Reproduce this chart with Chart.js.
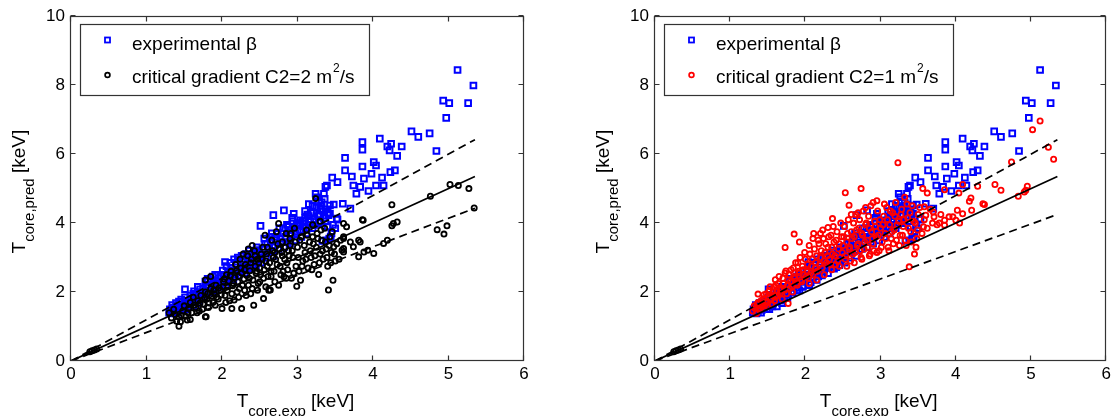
<!DOCTYPE html>
<html><head><meta charset="utf-8">
<script src="https://cdn.jsdelivr.net/npm/chart.js@4/dist/chart.umd.min.js"></script>
<style>
html,body{margin:0;padding:0;background:#fff;}
#wrap{position:relative;width:1114px;height:416px;overflow:hidden;background:#fff;}
.panel{position:absolute;top:0;width:557px;height:416px;}
</style></head><body>
<div id="wrap">
<div class="panel" style="left:0"><canvas id="c1"></canvas></div>
<div class="panel" style="left:557px"><canvas id="c2"></canvas></div>
</div>
<script>
const FONT = "'Liberation Sans', Arial, Helvetica, sans-serif";
const xTicks = [0,1,2,3,4,5,6];
const yTicks = [0,2,4,6,8,10];

// fit lines: x end points and y end points
const lineX = [0, 5.35];
const identityY = [0, 5.35];
const upperY = [0, 6.42];
const lowerYLeft = [0, 4.43];
const lowerYRight = [0, 4.25];

// small markers near the origin
const originPts = [[0.25,0.27],[0.28,0.30],[0.31,0.32],[0.34,0.35]];

// experimental beta (blue squares), same in both panels
const expBeta = [
[5.12,8.44],[5.33,7.99],[4.93,7.55],[5.01,7.48],[5.26,7.48],[4.97,7.05],[4.51,6.66],[4.60,6.50],[4.75,6.60],[4.84,6.09],
[4.09,6.45],[3.86,6.35],[3.86,6.13],[4.19,6.22],[4.24,6.30],[4.22,6.11],[4.38,6.22],[4.32,5.95],[3.63,5.89],[3.86,5.64],
[4.01,5.77],[4.04,5.67],[3.63,5.53],[3.72,5.35],[3.88,5.29],[3.98,5.43],[4.12,5.32],[4.23,5.48],[4.29,5.53],[3.74,5.09],
[3.83,5.05],[3.94,4.93],[4.04,5.09],[4.14,5.09],[3.78,4.85],[3.53,5.19],[3.46,5.32],[3.48,4.54],[3.60,4.56],[3.70,4.42],
[3.53,4.10],[3.43,4.27],[2.51,3.92],[2.68,4.23],[2.82,4.37],[2.95,4.27],[3.24,4.85],[3.35,4.85],[3.37,5.05],[3.39,5.09],
[3.43,4.51],[3.52,4.13],[3.41,4.23],[2.04,2.87],[2.88,3.89],[3.04,3.99],[1.51,2.08],[3.04,4.08],[3.28,4.62],[3.30,4.40],
[3.20,4.50],[3.15,4.20],[3.10,4.35],[3.30,4.05],
[1.30,1.40],[1.33,1.45],[1.35,1.38],[1.38,1.52],[1.40,1.60],[1.42,1.48],[1.45,1.55],[1.47,1.70],[1.50,1.62],[1.52,1.50],
[1.55,1.75],[1.57,1.66],[1.60,1.82],[1.62,1.58],[1.35,1.55],[1.43,1.72],
[1.65,1.90],[1.67,1.75],[1.70,2.00],[1.72,1.85],[1.75,2.10],[1.77,1.92],[1.80,2.20],[1.82,2.02],[1.85,2.35],[1.87,2.12],
[1.90,2.25],[1.92,2.05],[1.95,2.40],[1.97,2.18],[1.68,2.15],[1.78,2.30],[1.88,2.45],[1.62,1.95],
[2.00,2.30],[2.02,2.50],[2.05,2.20],[2.08,2.60],[2.10,2.40],[2.12,2.70],[2.15,2.35],[2.18,2.55],[2.20,2.80],[2.22,2.48],
[2.25,2.65],[2.28,2.90],[2.30,2.55],[2.33,2.75],[2.35,3.00],[2.38,2.68],[2.40,2.85],[2.42,3.10],[2.45,2.78],[2.48,2.95],
[2.06,2.75],[2.16,2.95],[2.26,3.05],[2.36,3.20],[2.46,3.30],
[2.50,3.10],[2.52,2.85],[2.55,3.25],[2.58,3.00],[2.60,3.40],[2.62,3.15],[2.65,3.50],[2.68,3.05],[2.70,3.35],[2.72,3.60],
[2.75,3.25],[2.78,3.45],[2.80,3.70],[2.82,3.30],[2.85,3.55],[2.88,3.80],[2.90,3.40],[2.92,3.65],[2.95,3.90],[2.98,3.50],
[2.56,3.55],[2.66,3.70],[2.76,3.85],[2.86,3.95],[2.94,4.05],
[3.00,3.75],[3.02,4.00],[3.05,3.60],[3.08,3.90],[3.10,4.15],[3.12,3.70],[3.15,3.95],[3.18,4.30],[3.20,3.85],[3.22,4.10],
[3.25,4.45],[3.28,4.00],[3.30,4.25],[3.32,4.60],[3.35,4.15],[3.38,4.40],[3.40,3.90],[3.42,3.55],[3.45,3.70],[3.50,3.85],
[3.36,4.70],[3.26,4.75],[3.15,4.55],
[1.31,1.50],[1.34,1.62],[1.37,1.45],[1.39,1.68],[1.41,1.40],[1.44,1.62],[1.46,1.78],[1.49,1.52],[1.51,1.85],[1.53,1.68],
[1.56,1.58],[1.58,1.90],[1.61,1.72],[1.63,2.02],[1.66,1.82],[1.69,1.68],[1.71,2.08],[1.73,1.95],[1.76,1.82],[1.79,2.15],
[1.81,2.38],[1.83,1.98],[1.86,2.22],[1.89,2.05],[1.91,2.50],[1.93,2.30],[1.96,2.15],[1.99,2.45],[2.01,2.62],[2.03,2.38],
[2.07,2.28],[2.09,2.52],[2.11,2.85],[2.14,2.62],[2.17,2.45],[2.19,2.72],[2.21,3.00],[2.24,2.58],[2.27,2.80],[2.29,2.70],
[2.32,3.10],[2.34,2.88],[2.37,2.78],[2.39,3.05],[2.41,2.72],[2.44,3.18],[2.47,2.88],[2.49,3.22],[2.53,3.00],[2.57,3.40],
[2.61,3.28],[2.63,3.60],[2.67,3.30],[2.71,3.50],[2.74,3.72],[2.77,3.55],[2.81,3.85],[2.84,3.60],[2.87,3.45],[2.91,3.80],
[2.93,4.15],[2.97,3.70],[2.99,3.95],[3.03,3.80],[3.07,4.05],[3.11,3.85],[3.13,4.25],[3.17,4.05],[3.21,4.30],[3.23,3.95],
[3.27,4.20],[3.31,4.50],[3.34,4.35],[3.37,4.05],[3.40,4.30],[3.47,3.95],[3.44,3.60],[3.38,3.50],[3.33,3.48]
];

// critical gradient C2=2 m^2/s (black circles, left panel)
const critC2a = [
[5.27,5.00],[5.13,5.09],[5.02,5.12],[4.76,4.78],[5.34,4.44],[4.98,3.92],[4.94,3.68],[4.85,3.81],[4.25,4.53],[4.27,3.99],
[4.32,4.03],[4.25,3.92],[3.86,4.10],[3.61,3.99],[4.19,3.50],[4.14,3.41],[4.01,3.12],[3.93,3.21],[3.88,3.16],[3.70,3.45],
[3.61,3.55],[3.74,3.31],[3.59,3.21],[3.83,3.45],[3.48,3.31],[3.81,3.02],[3.61,3.60],[3.81,3.50],[3.61,3.16],[3.65,3.89],
[3.87,4.08],[3.61,3.26],[3.41,2.06],[3.47,2.34],[3.28,2.51],[2.99,2.17],[3.04,2.34],[3.24,4.71],[2.75,3.99],[2.57,3.65],
[2.42,1.62],[2.26,1.52],[2.13,1.52],[2.00,1.52],[2.55,1.81],[2.64,2.06],[2.82,2.44],[1.78,1.28],[1.43,1.01],[1.45,1.14],
[1.54,1.19],[1.58,1.20],[1.79,1.28],[2.16,1.77],[1.43,1.28],
[1.30,1.40],[1.33,1.25],[1.36,1.50],[1.38,1.35],[1.40,1.15],[1.48,1.45],[1.50,1.60],[1.52,1.30],[1.56,1.52],[1.58,1.70],
[1.60,1.40],[1.62,1.85],[1.65,1.55],[1.68,1.75],[1.70,1.45],[1.72,1.90],[1.75,1.65],[1.78,2.00],[1.80,1.80],[1.82,1.55],
[1.85,2.10],[1.88,1.70],[1.90,1.95],[1.92,2.20],[1.95,1.80],[1.98,2.05],[1.78,2.35],[1.85,2.45],
[2.02,2.30],[2.04,1.90],[2.06,2.50],[2.08,2.15],[2.10,1.75],[2.12,2.60],[2.15,2.25],[2.18,2.80],[2.20,2.00],[2.22,2.45],
[2.24,2.95],[2.27,2.20],[2.30,2.65],[2.32,1.90],[2.34,3.05],[2.36,2.40],[2.38,2.85],[2.40,2.10],[2.43,3.20],[2.45,2.55],
[2.47,2.95],[2.48,2.25],[2.35,3.25],[2.25,2.70],[2.44,2.75],[2.40,3.35],[2.28,3.10],
[2.50,2.70],[2.52,3.10],[2.55,2.40],[2.58,2.90],[2.60,3.30],[2.62,2.05],[2.65,2.60],[2.66,3.50],[2.68,3.00],[2.70,2.30],
[2.72,3.75],[2.73,2.80],[2.76,3.25],[2.78,2.50],[2.80,3.45],[2.83,2.95],[2.85,3.70],[2.87,2.65],[2.88,3.20],[2.90,3.55],
[2.92,2.40],[2.94,3.00],[2.96,3.85],[2.98,2.75],[2.60,2.75],[2.70,3.15],[2.80,3.05],[2.90,3.35],
[3.00,3.30],[3.02,2.60],[3.05,3.60],[3.07,2.90],[3.10,3.15],[3.12,3.80],[3.14,2.70],[3.16,3.45],[3.18,3.00],[3.20,3.95],
[3.22,2.80],[3.25,3.30],[3.26,3.70],[3.30,3.10],[3.32,3.50],[3.34,2.95],[3.36,3.85],[3.38,3.25],[3.40,2.75],[3.43,3.60],
[3.45,3.15],[3.50,2.90],[3.30,4.05],[3.20,3.60],
[1.46,1.32],[1.55,1.40],[1.63,1.62],[1.67,1.40],[1.71,1.68],[1.74,1.50],[1.77,1.82],[1.81,1.95],[1.83,1.68],[1.86,1.88],
[1.89,2.05],[1.91,1.62],[1.93,1.85],[1.96,2.12],[1.99,1.92],[2.01,2.15],[2.03,2.38],[2.05,1.70],[2.07,2.05],[2.09,2.32],
[2.11,2.48],[2.13,1.95],[2.14,2.18],[2.17,2.42],[2.19,2.62],[2.21,2.30],[2.23,2.10],[2.26,2.55],[2.29,2.38],[2.31,2.80],
[2.33,2.48],[2.37,2.62],[2.39,2.95],[2.41,2.35],[2.44,3.05],[2.46,2.60],[2.49,2.85],[2.51,2.50],[2.53,2.95],[2.54,3.30],
[2.56,2.65],[2.59,3.10],[2.61,2.45],[2.63,2.85],[2.67,3.20],[2.69,2.60],[2.71,2.95],[2.74,3.40],[2.77,2.75],[2.79,3.15],
[2.81,2.60],[2.84,3.30],[2.86,2.85],[2.89,3.05],[2.91,3.70],[2.93,3.20],[2.95,2.55],[2.97,3.45],[3.01,3.00],[3.03,3.50],
[3.06,2.75],[3.09,3.35],[3.11,2.95],[3.13,3.65],[3.17,3.20],[3.19,2.65],[3.21,3.40],[3.23,3.05],[3.27,3.55],[3.29,2.85],
[3.31,3.80],[3.33,3.20],[3.37,3.45],[3.39,3.00],[3.42,3.35],[3.44,2.85],[3.46,3.75],[3.49,3.10],[3.52,3.40],[3.55,2.95],
[3.57,3.50],[2.35,2.20],[2.50,2.30],[2.65,2.45],[2.75,2.20],[2.85,2.40],[2.58,2.15],[2.47,2.05],[2.38,1.95],[2.22,1.85],
[2.30,2.05]
];

// critical gradient C2=1 m^2/s (red circles, right panel)
const critC2b = [
[5.12,6.96],[5.02,6.71],[5.23,6.20],[5.30,5.85],[4.74,5.77],[4.52,5.12],[4.60,4.95],[4.95,5.07],[4.93,4.95],[4.83,4.78],
[4.29,5.07],[4.20,4.73],[4.18,4.63],[4.38,4.54],[4.09,5.12],[4.04,4.87],[4.02,4.37],[4.09,4.27],[4.21,4.37],[3.96,4.18],
[4.00,4.08],[3.85,4.08],[3.78,4.00],[3.71,4.18],[3.60,4.23],[3.69,4.00],[4.05,4.00],[3.85,4.97],[3.62,4.87],[3.56,5.00],
[3.58,4.47],[3.70,4.32],[3.57,3.89],[3.85,3.94],[3.91,4.18],[4.36,4.56],[4.91,4.90],
[3.23,5.75],[2.53,4.88],[2.74,5.00],[2.58,4.52],[2.61,4.25],[2.36,4.13],[3.45,3.10],[3.38,2.73],[1.92,3.45],[3.21,3.50],
[1.85,3.68],[1.73,3.29],[1.74,2.61],[1.60,2.36],[1.37,1.94],[1.42,1.57],[1.77,1.67],[2.30,3.87],
[1.30,1.45],[1.32,1.60],[1.35,1.38],[1.37,1.70],[1.40,1.52],[1.44,1.80],[1.46,1.62],[1.48,1.95],[1.50,1.70],[1.52,2.05],
[1.54,1.78],[1.56,1.90],[1.58,2.15],[1.60,1.85],[1.62,2.00],[1.64,2.25],[1.66,1.95],[1.68,2.10],[1.70,2.40],[1.72,2.05],
[1.76,2.20],[1.78,2.50],[1.80,2.30],[1.82,2.15],[1.84,2.70],[1.86,2.40],[1.88,2.25],[1.90,2.85],[1.92,2.55],[1.94,2.35],
[1.96,2.75],[1.98,2.50],
[2.00,2.95],[2.02,2.60],[2.04,2.40],[2.06,3.10],[2.08,2.75],[2.10,2.50],[2.12,3.25],[2.14,2.85],[2.16,2.60],[2.18,3.40],
[2.20,3.00],[2.22,2.70],[2.24,3.55],[2.26,3.15],[2.28,2.85],[2.30,3.30],[2.32,2.95],[2.34,3.65],[2.36,3.10],[2.38,3.45],
[2.40,2.80],[2.42,3.75],[2.44,3.25],[2.46,3.00],[2.48,3.60],[2.10,3.55],[2.20,3.70],[2.05,2.25],[2.15,2.35],[2.25,2.50],
[2.35,2.65],[2.45,2.75],
[2.50,3.35],[2.52,3.90],[2.54,3.05],[2.56,3.70],[2.58,3.25],[2.60,2.90],[2.62,3.55],[2.64,4.00],[2.66,3.15],[2.68,3.80],
[2.70,3.40],[2.72,4.10],[2.74,3.00],[2.76,3.65],[2.78,3.25],[2.80,3.95],[2.82,3.50],[2.84,4.20],[2.86,3.10],[2.88,3.75],
[2.90,3.40],[2.92,4.05],[2.94,3.60],[2.96,4.35],[2.98,3.20],[2.55,2.75],[2.65,2.85],[2.75,2.95],[2.85,3.05],[2.95,3.15],
[2.70,4.30],[2.80,4.45],[2.90,4.60],
[3.00,3.85],[3.02,3.45],[3.04,4.20],[3.06,3.70],[3.08,4.45],[3.10,3.30],[3.12,3.95],[3.14,3.55],[3.16,4.30],[3.18,3.80],
[3.20,4.60],[3.24,4.05],[3.26,3.65],[3.28,4.40],[3.30,3.90],[3.32,4.75],[3.34,3.35],[3.36,4.15],[3.40,3.75],[3.42,4.50],
[3.46,4.00],[3.48,3.55],[3.50,4.25],
[1.33,1.52],[1.36,1.65],[1.39,1.48],[1.41,1.75],[1.43,1.60],[1.45,1.92],[1.47,1.72],[1.49,1.58],[1.51,1.88],[1.53,2.15],
[1.55,1.65],[1.57,2.00],[1.59,1.75],[1.61,2.20],[1.63,1.90],[1.65,2.45],[1.67,2.05],[1.69,1.80],[1.71,2.25],[1.73,2.55],
[1.75,1.95],[1.77,2.35],[1.79,2.10],[1.81,2.65],[1.83,2.00],[1.85,2.45],[1.87,2.85],[1.89,2.20],[1.91,2.60],[1.93,3.00],
[1.95,2.30],[1.97,2.65],[1.99,3.15],[2.01,2.45],[2.03,2.80],[2.05,3.35],[2.07,2.55],[2.09,2.95],[2.11,3.70],[2.13,2.70],
[2.15,3.05],[2.17,3.50],[2.19,2.80],[2.21,3.20],[2.23,3.80],[2.25,2.90],[2.27,3.40],[2.29,3.05],[2.31,3.60],[2.33,2.80],
[2.35,3.30],[2.37,3.90],[2.39,3.05],[2.41,3.50],[2.43,2.90],[2.45,3.40],[2.47,4.00],[2.49,3.15],[2.51,3.60],[2.53,2.95],
[2.55,3.45],[2.57,4.10],[2.59,3.30],[2.61,3.75],[2.63,3.10],[2.65,3.60],[2.67,4.25],[2.69,3.35],[2.71,3.85],[2.73,3.20],
[2.75,3.70],[2.77,4.35],[2.79,3.45],[2.81,4.00],[2.83,3.30],[2.85,3.85],[2.87,4.50],[2.89,3.55],[2.91,3.20],[2.93,3.90],
[2.95,4.65],[2.97,3.65],[2.99,4.10],[3.01,3.30],[3.03,3.95],[3.05,4.55],[3.07,3.55],[3.09,4.10],[3.11,3.20],[3.13,4.35],
[3.15,3.75],[3.17,3.40],[3.19,4.20],[3.22,3.95],[3.25,3.35],[3.27,4.25],[3.29,3.65],[3.31,4.10],[3.33,3.50],[3.35,4.55],
[3.37,3.85],[3.39,4.30],[3.41,3.45],[3.44,4.05],[3.47,3.30],[3.49,3.80],[3.52,4.45],[3.55,3.70],[3.58,4.10],[3.62,3.85],
[3.66,4.40],[3.75,3.95],[3.80,4.25]
];

const toXY = arr => arr.map(p => ({x: p[0], y: p[1]}));
const lineData = ys => lineX.map((x, i) => ({x: x, y: ys[i]}));

const framePlugin = {
  id: 'frameDeco',
  afterDraw(chart) {
    const o = chart.options.plugins.frameDeco;
    const ctx = chart.ctx, a = chart.chartArea;
    const xs = chart.scales.x, ys = chart.scales.y;
    ctx.save();
    // box
    ctx.strokeStyle = '#333';
    ctx.lineWidth = 1.2;
    const L = Math.round(a.left) - 0.5, R = Math.round(a.right) - 0.5;
    const T = Math.round(a.top) + 0.5, B = Math.round(a.bottom) - 0.5;
    ctx.strokeRect(L, T, R - L, B - T);
    ctx.beginPath();
    xTicks.forEach(v => {
      const px = Math.round(xs.getPixelForValue(v)) - 0.5;
      ctx.moveTo(px, B); ctx.lineTo(px, B - 5);
      ctx.moveTo(px, T); ctx.lineTo(px, T + 5);
    });
    yTicks.forEach(v => {
      const py = Math.round(ys.getPixelForValue(v)) - 0.5;
      ctx.moveTo(L, py); ctx.lineTo(L + 5, py);
      ctx.moveTo(R, py); ctx.lineTo(R - 5, py);
    });
    ctx.stroke();

    // legend
    const lg = o.legend;
    ctx.fillStyle = '#fff';
    ctx.fillRect(a.left + lg.dx, 24, lg.w, 71);
    ctx.strokeStyle = '#333'; ctx.lineWidth = 1.2;
    ctx.strokeRect(Math.round(a.left + lg.dx) + 0.5, 24.5, lg.w, 71);
    const mx = a.left + 36.5, tx = a.left + 61;
    ctx.strokeStyle = '#0000ff'; ctx.lineWidth = 1.8;
    ctx.strokeRect(mx - 2.5, 40 - 2.5, 5, 5);
    ctx.strokeStyle = lg.circleColor; ctx.lineWidth = 1.7;
    ctx.beginPath(); ctx.arc(mx, 75, 2.4, 0, Math.PI * 2); ctx.stroke();
    ctx.fillStyle = '#000';
    ctx.textAlign = 'left'; ctx.textBaseline = 'alphabetic';
    ctx.font = `19px ${FONT}`;
    ctx.fillText(lg.text1, tx, 50);
    ctx.fillText(lg.text2a, tx, 83);
    let w = ctx.measureText(lg.text2a).width;
    ctx.font = `12px ${FONT}`;
    ctx.fillText(lg.sup, tx + w + 1, 72);
    const ws = ctx.measureText(lg.sup).width;
    ctx.font = `19px ${FONT}`;
    ctx.fillText(lg.text2b, tx + w + ws + 1, 83);

    // axis titles
    const mainF = `19px ${FONT}`, subF = `15px ${FONT}`;
    const drawTitle = (sub, cx, base) => {
      ctx.font = mainF;
      const wT = ctx.measureText('T').width, wK = ctx.measureText(' [keV]').width;
      ctx.font = subF;
      const wS = ctx.measureText(sub).width;
      const x0 = cx - (wT + wS + wK) / 2;
      ctx.font = mainF; ctx.fillText('T', x0, base);
      ctx.font = subF; ctx.fillText(sub, x0 + wT, base + 8.5);
      ctx.font = mainF; ctx.fillText(' [keV]', x0 + wT + wS, base);
    };
    drawTitle(o.xSub, (a.left + a.right) / 2 - 2, 407);
    ctx.translate(a.left - 46, (a.top + a.bottom) / 2 + 3);
    ctx.rotate(-Math.PI / 2);
    drawTitle(o.ySub, 0, 0);
    ctx.restore();
  }
};

function makeChart(id, yWidth, padRight, circles, circleColor, lowerY, legendText) {
  const tickFont = {family: FONT, size: 17};
  return new Chart(document.getElementById(id), {
    type: 'scatter',
    data: {
      datasets: [
        {data: lineData(identityY), showLine: true, borderColor: '#000', borderWidth: 1.7, pointRadius: 0, order: 0},
        {data: lineData(upperY), showLine: true, borderColor: '#000', borderWidth: 1.7, borderDash: [8, 5], pointRadius: 0, order: 0},
        {data: lineData(lowerY), showLine: true, borderColor: '#000', borderWidth: 1.7, borderDash: [8, 5], pointRadius: 0, order: 0},
        {data: toXY(originPts), pointStyle: 'circle', pointRadius: 2.6, borderWidth: 1.8, borderColor: '#000', backgroundColor: 'rgba(0,0,0,0)', order: 1},
        {data: toXY(circles), pointStyle: 'circle', pointRadius: 2.6, borderWidth: 1.8, borderColor: circleColor, backgroundColor: 'rgba(0,0,0,0)', order: 2},
        {data: toXY(expBeta), pointStyle: 'rect', pointRadius: 4.0, borderWidth: 2.0, borderColor: '#0000ff', backgroundColor: 'rgba(0,0,0,0)', order: 3}
      ]
    },
    options: {
      responsive: true, maintainAspectRatio: false, animation: false, events: [],
      layout: {padding: {top: 15, left: 0, right: padRight, bottom: 0}},
      plugins: {
        legend: {display: false}, tooltip: {enabled: false},
        frameDeco: {
          xSub: 'core,exp', ySub: 'core,pred',
          legend: {dx: 8.5, w: 289, circleColor: circleColor, text1: 'experimental β', text2a: legendText, sup: '2', text2b: '/s'}
        }
      },
      scales: {
        x: {
          type: 'linear', min: 0, max: 6,
          afterBuildTicks: s => { s.ticks = xTicks.map(v => ({value: v})); },
          afterFit: s => { s.height = 55; },
          grid: {display: false, drawTicks: false}, border: {display: false},
          ticks: {font: tickFont, color: '#000', padding: 3, maxRotation: 0, autoSkip: false}
        },
        y: {
          type: 'linear', min: 0, max: 10,
          afterBuildTicks: s => { s.ticks = yTicks.map(v => ({value: v})); },
          afterFit: s => { s.width = yWidth; },
          grid: {display: false, drawTicks: false}, border: {display: false},
          ticks: {font: tickFont, color: '#000', padding: 6, autoSkip: false}
        }
      }
    },
    plugins: [framePlugin]
  });
}

makeChart('c1', 71, 33, critC2a, '#000000', lowerYLeft, 'critical gradient C2=2 m');
makeChart('c2', 98, 6, critC2b, '#ff0000', lowerYRight, 'critical gradient C2=1 m');
</script>
</body></html>
